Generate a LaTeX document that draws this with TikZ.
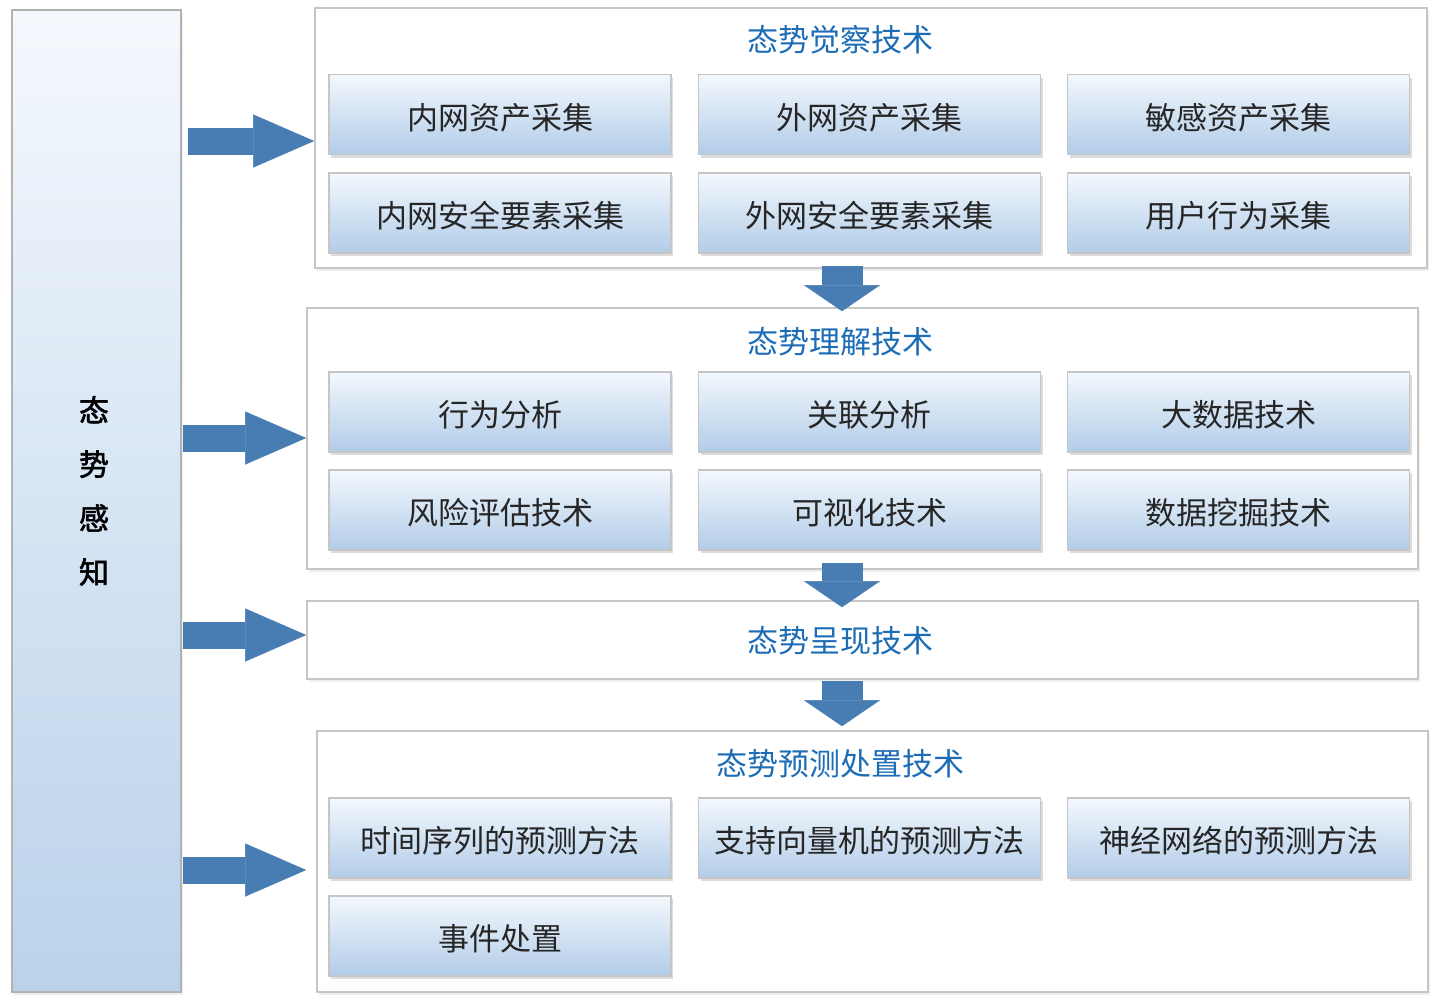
\documentclass[tikz,border=0pt]{standalone}
\usepackage{fontspec}
\setmainfont{Noto Sans CJK SC}
\newfontfamily\barfont{Noto Sans CJK SC}[FakeBold=2]
\usetikzlibrary{arrows.meta,shadows,calc}
\definecolor{titleblue}{RGB}{28,108,182}
\definecolor{arrowblue}{RGB}{72,125,180}
\definecolor{boxtop}{RGB}{243,248,253}
\definecolor{boxbot}{RGB}{178,204,232}
\definecolor{bartop}{RGB}{244,248,253}
\definecolor{barbot}{RGB}{186,210,234}
\definecolor{edgegray}{RGB}{198,198,198}

\begin{document}
\begin{tikzpicture}[x=1pt,y=-1pt,
    item/.style={draw=edgegray,line width=1.2pt,top color=boxtop,bottom color=boxbot,
      minimum width=342pt,minimum height=80pt,inner sep=0pt,text=black!85,
      text height=34pt,text depth=5pt,
      font=\fontsize{31}{34}\selectfont,
      drop shadow={shadow xshift=2pt,shadow yshift=-3pt,opacity=.3,fill=black!45}},
    panel/.style={draw=edgegray,line width=1.6pt,fill=white,inner sep=0pt,
      drop shadow={shadow xshift=2pt,shadow yshift=-3pt,opacity=.15,fill=black!45}},
    gtitle/.style={text=titleblue,font=\fontsize{31}{34}\selectfont},
    rarrow/.style={draw=arrowblue,line width=27pt,
      -{Triangle[width=53pt,length=61pt,line width=0.5pt]}},
    darrow/.style={draw=arrowblue,line width=41pt,
      -{Triangle[width=76pt,length=26pt,line width=0.5pt]}}]
\useasboundingbox (0,0) rectangle (1438,1005);

\node[panel,draw=edgegray!90!black,top color=bartop,bottom color=barbot,minimum width=169pt,minimum height=982pt] (bar) at (96.5,501) {};
\node[align=center,font=\barfont\fontsize{30}{54}\selectfont] (bartext) at (94,491) {态\\势\\感\\知};

\node[panel,minimum width=1112pt,minimum height=260pt] (g1) at (871,138) {};
\node[panel,minimum width=1111pt,minimum height=261pt] (g2) at (862.5,438.5) {};
\node[panel,minimum width=1111pt,minimum height=78pt] (g3) at (862.5,640) {};
\node[panel,minimum width=1111pt,minimum height=261pt] (g4) at (872.5,861.5) {};

\node[gtitle] (t1) at (840,40) {态势觉察技术};
\node[gtitle] (t2) at (840,342) {态势理解技术};
\node[gtitle] (t3) at (840,641) {态势呈现技术};
\node[gtitle] (t4) at (840,764) {态势预测处置技术};

\node[item] (nzc) at (500,114.5) {内网资产采集};
\node[item] (wzc) at (869.5,114.5) {外网资产采集};
\node[item] (mzc) at (1238.5,114.5) {敏感资产采集};
\node[item] (naq) at (500,213) {内网安全要素采集};
\node[item] (waq) at (869.5,213) {外网安全要素采集};
\node[item] (yhxw) at (1238.5,213) {用户行为采集};

\node[item] (xwfx) at (500,412) {行为分析};
\node[item] (glfx) at (869.5,412) {关联分析};
\node[item] (dsj) at (1238.5,412) {大数据技术};
\node[item] (fxpg) at (500,510) {风险评估技术};
\node[item] (ksh) at (869.5,510) {可视化技术};
\node[item] (sjwj) at (1238.5,510) {数据挖掘技术};

\node[item] (sjxl) at (500,838) {时间序列的预测方法};
\node[item] (zcxl) at (869.5,838) {支持向量机的预测方法};
\node[item] (sjwl) at (1238.5,838) {神经网络的预测方法};
\node[item] (sjcz) at (500,936) {事件处置};

\coordinate (a1) at (188,141);
\coordinate (a2) at (183,438);
\coordinate (a3) at (183,635);
\coordinate (a4) at (183,870);
\draw[rarrow] (a1) -- (a1 -| g1.west);
\draw[rarrow] (a2) -- (a2 -| g2.west);
\draw[rarrow] (a3) -- (a3 -| g3.west);
\draw[rarrow] (a4) -- ($(a4 -| g4.west)+(-10,0)$);

\coordinate (d1) at (842,266);
\coordinate (d2) at (842,563);
\coordinate (d3) at (842,681);
\draw[darrow] (d1) -- ($(d1 |- g2.north)+(0,4)$);
\draw[darrow] (d2) -- ($(d2 |- g3.north)+(0,7)$);
\draw[darrow] (d3) -- ($(d3 |- g4.north)+(0,-4)$);
\end{tikzpicture}
\end{document}
